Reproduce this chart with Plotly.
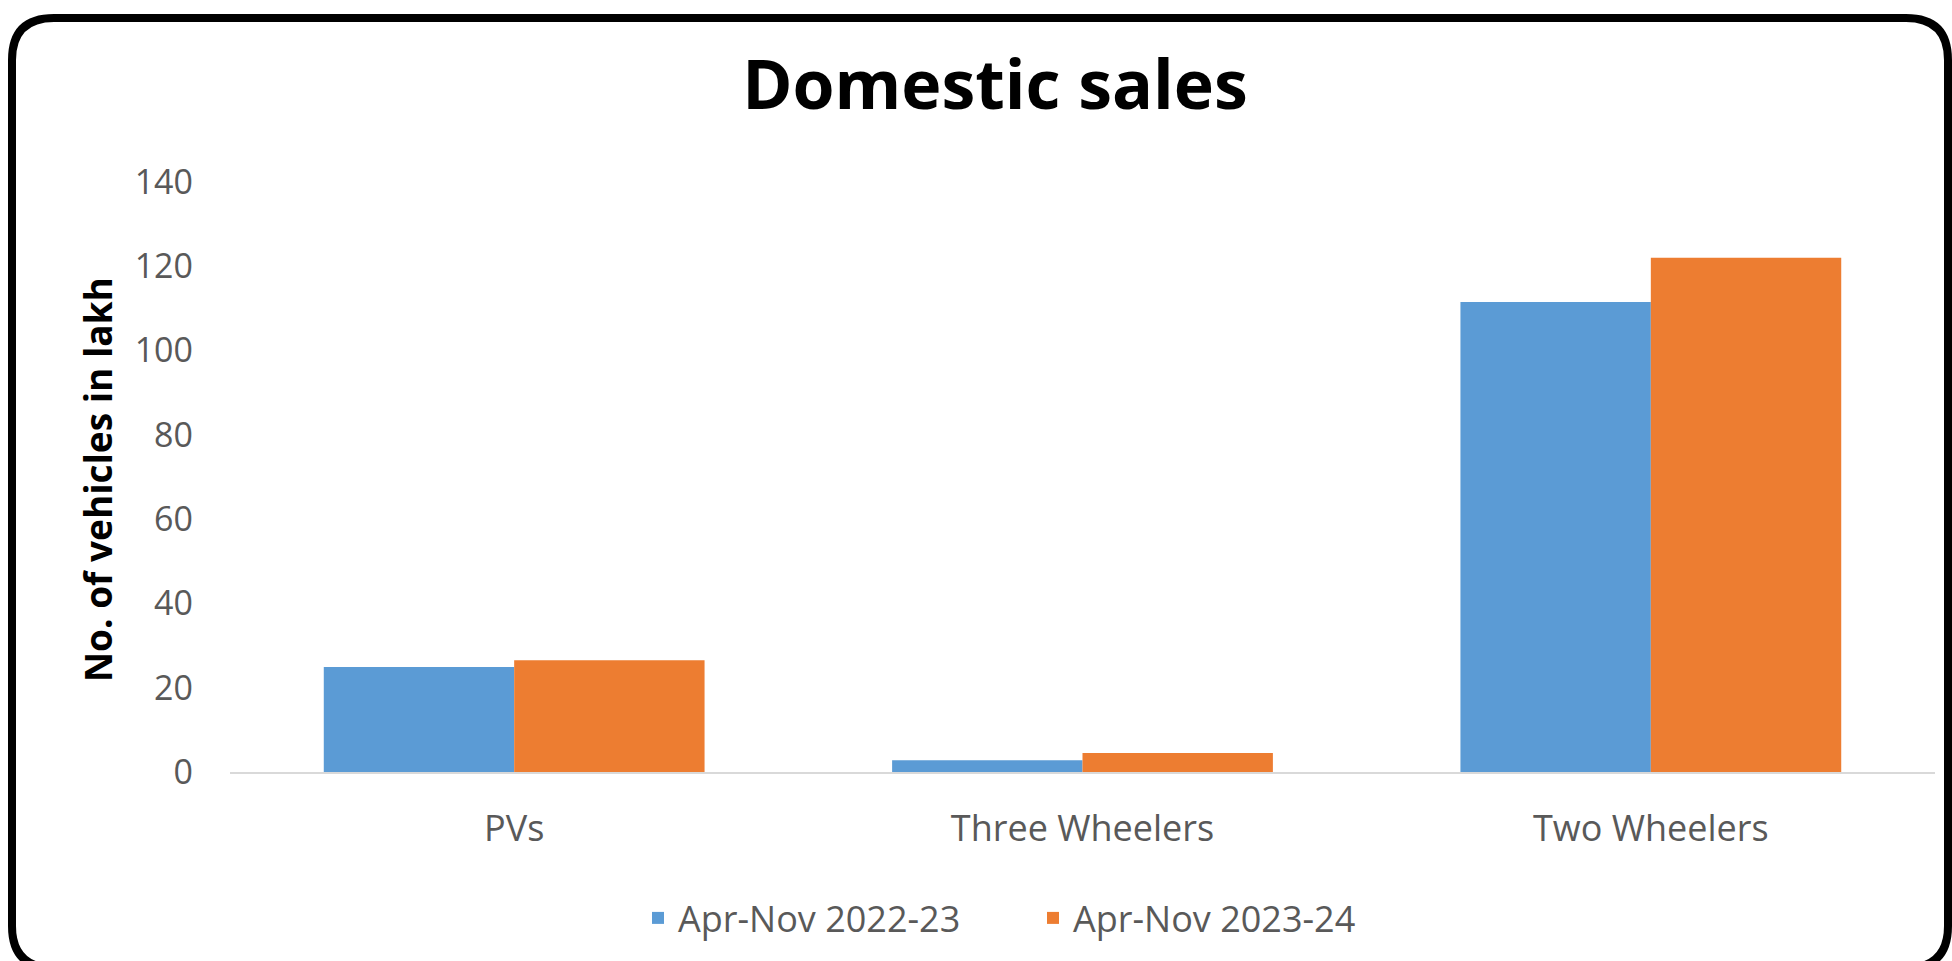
import plotly.graph_objects as go

categories = ["PVs", "Three Wheelers", "Two Wheelers"]
series_names = ["Apr-Nov 2022-23", "Apr-Nov 2023-24"]
sales_2022_23 = [24.9, 2.8, 111.5]
sales_2023_24 = [26.5, 4.5, 122.0]
series_colors = ["#5B9BD5", "#ED7D31"]
y_ticks = [0, 20, 40, 60, 80, 100, 120, 140]

W, H = 1952, 961
L, R, T, B = 230, 17, 182, 189
PW, PH = W - L - R, H - T - B

def px(x):
    return (x - L) / PW

def py(y):
    return (H - B - y) / PH

fig = go.Figure()
for name, vals, col in zip(series_names, [sales_2022_23, sales_2023_24], series_colors):
    fig.add_trace(go.Bar(x=categories, y=vals, name=name, marker_color=col,
                         marker_line_width=0))

# rounded border (pixel positions converted to paper coords)
bl, bt, br, bb, rad = 12, 18, 1948, 968, 42
path = (f"M {px(bl+rad)},{py(bt)} L {px(br-rad)},{py(bt)} "
        f"Q {px(br)},{py(bt)} {px(br)},{py(bt+rad)} "
        f"L {px(br)},{py(bb-rad)} Q {px(br)},{py(bb)} {px(br-rad)},{py(bb)} "
        f"L {px(bl+rad)},{py(bb)} Q {px(bl)},{py(bb)} {px(bl)},{py(bb-rad)} "
        f"L {px(bl)},{py(bt+rad)} Q {px(bl)},{py(bt)} {px(bl+rad)},{py(bt)} Z")

fig.update_layout(
    width=W, height=H,
    margin=dict(l=L, r=R, t=T, b=B, autoexpand=False),
    paper_bgcolor="white", plot_bgcolor="white",
    font=dict(family="Open Sans", color="#595959"),
    barmode="group", bargap=0.33, bargroupgap=0.0,
    title=dict(text="<b>Domestic sales</b>", x=995 / W, xref="container", xanchor="center",
               y=1 - 85 / H, yref="container", yanchor="middle",
               font=dict(family="Open Sans", size=68, color="black")),
    xaxis=dict(showline=True, linecolor="#D9D9D9", linewidth=2, showgrid=False,
               ticks="", tickfont=dict(size=36, color="#595959"), ticklabelstandoff=24),
    yaxis=dict(range=[0, 140], tickvals=y_ticks, showgrid=False, zeroline=False,
               showline=False, ticks="", tickfont=dict(size=34, color="#595959"),
               ticklabelstandoff=36),
    legend=dict(orientation="h", x=px(1033), xanchor="center", y=py(918), yanchor="middle",
                font=dict(size=36, color="#595959"), traceorder="normal",
                entrywidth=350, entrywidthmode="pixels"),
    showlegend=True,
    shapes=[dict(type="path", xref="paper", yref="paper", path=path,
                 line=dict(color="black", width=8), fillcolor="rgba(0,0,0,0)")],
    annotations=[dict(text="<b>No. of vehicles in lakh</b>", xref="paper", yref="paper",
                      x=px(97), y=py(480), xanchor="center", yanchor="middle",
                      textangle=-90, showarrow=False,
                      font=dict(family="Open Sans", size=37, color="black"))],
)

fig.write_html("out.html")
